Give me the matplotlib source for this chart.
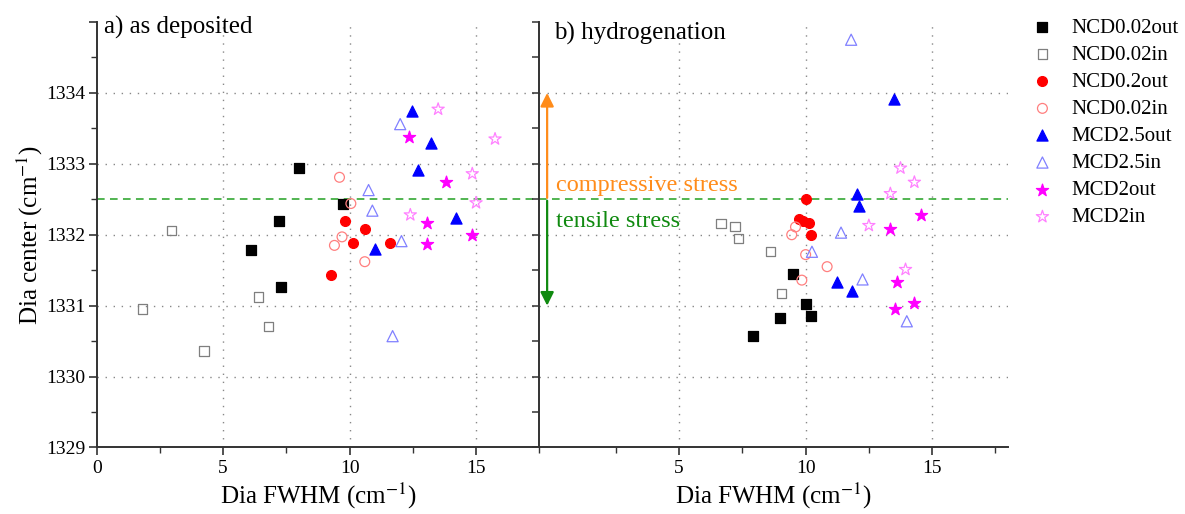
import numpy as np
import matplotlib
matplotlib.use('Agg')
import matplotlib.pyplot as plt
from matplotlib.ticker import MultipleLocator, FixedLocator, FuncFormatter

plt.rc('font', family='Liberation Serif')
plt.rc('mathtext', fontset='stix')

# a) as deposited
ncd002out_a_x = [6.1, 7.2, 7.3, 8.0, 9.75]
ncd002out_a_y = [1331.78, 1332.2, 1331.26, 1332.94, 1332.44]
ncd002in_a_x = [1.8, 2.95, 4.25, 6.4, 6.8]
ncd002in_a_y = [1330.95, 1332.06, 1330.36, 1331.12, 1330.71]
ncd02out_a_x = [9.8, 10.6, 10.15, 11.6, 9.25]
ncd02out_a_y = [1332.19, 1332.08, 1331.89, 1331.89, 1331.43]
ncd002in2_a_x = [9.6, 10.05, 9.7, 9.4, 10.6]
ncd002in2_a_y = [1332.81, 1332.44, 1331.97, 1331.85, 1331.62]
mcd25out_a_x = [12.45, 13.2, 12.7, 14.2, 11.0]
mcd25out_a_y = [1333.74, 1333.3, 1332.91, 1332.23, 1331.8]
mcd25in_a_x = [12.0, 10.75, 10.9, 12.05, 11.7]
mcd25in_a_y = [1333.56, 1332.63, 1332.34, 1331.91, 1330.57]
mcd2out_a_x = [12.35, 13.8, 13.05, 13.05, 14.85]
mcd2out_a_y = [1333.38, 1332.75, 1332.16, 1331.87, 1332.0]
mcd2in_a_x = [13.5, 15.75, 14.85, 15.0, 12.4]
mcd2in_a_y = [1333.77, 1333.35, 1332.86, 1332.45, 1332.28]

# b) hydrogenation
ncd002out_b_x = [9.5, 10.0, 10.2, 9.0, 7.9]
ncd002out_b_y = [1331.45, 1331.03, 1330.85, 1330.83, 1330.57]
ncd002in_b_x = [6.65, 7.2, 7.35, 8.6, 9.05]
ncd002in_b_y = [1332.16, 1332.12, 1331.95, 1331.76, 1331.17]
ncd02out_b_x = [10.0, 9.75, 9.9, 10.15, 10.2]
ncd02out_b_y = [1332.5, 1332.22, 1332.19, 1332.16, 1332.0]
ncd002in2_b_x = [9.6, 9.45, 10.0, 9.85, 10.85]
ncd002in2_b_y = [1332.11, 1332.0, 1331.72, 1331.36, 1331.55]
mcd25out_b_x = [12.05, 12.1, 11.25, 11.85, 13.5]
mcd25out_b_y = [1332.57, 1332.4, 1331.33, 1331.2, 1333.92]
mcd25in_b_x = [11.8, 11.4, 10.25, 12.25, 14.0]
mcd25in_b_y = [1334.75, 1332.03, 1331.76, 1331.37, 1330.78]
mcd2out_b_x = [14.55, 13.35, 13.6, 14.3, 13.55]
mcd2out_b_y = [1332.28, 1332.08, 1331.33, 1331.04, 1330.95]
mcd2in_b_x = [13.75, 14.3, 13.35, 12.5, 13.95]
mcd2in_b_y = [1332.94, 1332.74, 1332.58, 1332.13, 1331.51]

labels = ['NCD0.02out', 'NCD0.02in', 'NCD0.2out', 'NCD0.02in',
          'MCD2.5out', 'MCD2.5in', 'MCD2out', 'MCD2in']
# marker, size, face, edge
styles = [('s', 46, 'black', 'black'),
          ('s', 46, 'none', '#7f7f7f'),
          ('o', 50, 'red', 'red'),
          ('o', 50, 'none', '#ff7f7f'),
          ('^', 64, 'blue', 'blue'),
          ('^', 64, 'none', '#8080ff'),
          ('*', 85, 'magenta', 'magenta'),
          ('*', 85, 'none', '#ff80ff')]

data_a = [(ncd002out_a_x, ncd002out_a_y), (ncd002in_a_x, ncd002in_a_y),
          (ncd02out_a_x, ncd02out_a_y), (ncd002in2_a_x, ncd002in2_a_y),
          (mcd25out_a_x, mcd25out_a_y), (mcd25in_a_x, mcd25in_a_y),
          (mcd2out_a_x, mcd2out_a_y), (mcd2in_a_x, mcd2in_a_y)]
data_b = [(ncd002out_b_x, ncd002out_b_y), (ncd002in_b_x, ncd002in_b_y),
          (ncd02out_b_x, ncd02out_b_y), (ncd002in2_b_x, ncd002in2_b_y),
          (mcd25out_b_x, mcd25out_b_y), (mcd25in_b_x, mcd25in_b_y),
          (mcd2out_b_x, mcd2out_b_y), (mcd2in_b_x, mcd2in_b_y)]

fig = plt.figure(figsize=[11.85, 5.14], dpi=100)
axa = fig.add_axes([0.0816, 0.1294, 0.3735, 0.8278])
axb = fig.add_axes([0.4551, 0.1294, 0.3955, 0.8278])

spine_c = '#333333'
grid_kw = dict(color='#888888', lw=1.0, ls=(0, (1, 4.8)), zorder=1)

for ax in [axa, axb]:
    ax.set_ylim(1329, 1335)
    ax.patch.set_alpha(0)
    for y in [1330, 1331, 1332, 1333, 1334]:
        ax.axhline(y, **grid_kw)
    for x in [5, 10, 15]:
        ax.axvline(x, **grid_kw)
    ax.axhline(1332.5, color='#22a022', lw=1.1, ls=(0, (5, 3.5)), zorder=2)
    ax.spines['top'].set_visible(False)
    for s in ax.spines.values():
        s.set_color(spine_c)
        s.set_linewidth(1.4)
    ax.xaxis.set_minor_locator(FixedLocator([2.5, 7.5, 12.5, 17.5]))
    ax.tick_params(axis='x', which='major', direction='out', length=6, width=1.2,
                   color=spine_c, labelsize=14, pad=3)
    ax.tick_params(axis='x', which='minor', direction='out', length=4, width=1.0,
                   color=spine_c)
    ax.set_xlabel(r'Dia FWHM (cm$^{-1}$)', fontsize=18, labelpad=3)

# left panel
axa.set_xlim(0, 17.5)
axa.xaxis.set_major_locator(FixedLocator([0, 5, 10, 15]))
axa.yaxis.set_major_locator(MultipleLocator(1))
axa.yaxis.set_minor_locator(MultipleLocator(0.5))
axa.yaxis.set_major_formatter(FuncFormatter(lambda v, p: '' if v > 1334.5 else '%d' % round(v)))
axa.tick_params(axis='y', which='major', direction='out', length=6, width=1.2,
                color=spine_c, labelsize=14, pad=2)
axa.tick_params(axis='y', which='minor', direction='out', length=4, width=1.0,
                color=spine_c)
axa.spines['right'].set_visible(False)
axa.set_ylabel(r'Dia center (cm$^{-1}$)', fontsize=18, labelpad=1)

tw = axa.twinx()
tw.set_ylim(1329, 1335)
tw.yaxis.set_major_locator(MultipleLocator(1))
tw.yaxis.set_minor_locator(MultipleLocator(0.5))
tw.tick_params(axis='y', which='both', direction='in', length=5, width=1.1,
               color=spine_c, labelright=False)
for s in ['top', 'left', 'bottom']:
    tw.spines[s].set_visible(False)
tw.spines['right'].set_color(spine_c)
tw.spines['right'].set_linewidth(1.4)

# right panel
axb.set_xlim(-0.53, 18)
axb.xaxis.set_major_locator(FixedLocator([5, 10, 15]))
axb.spines['left'].set_visible(False)
axb.spines['right'].set_visible(False)
axb.set_yticks([])

handles = []
for ax, data in [(axa, data_a), (axb, data_b)]:
    for (x, y), (m, sz, fc, ec), lab in zip(data, styles, labels):
        h = ax.scatter(x, y, marker=m, s=sz, facecolors=fc, edgecolors=ec,
                       linewidths=0.9, zorder=5, label=lab)
        if ax is axa:
            handles.append(h)

axa.text(0.0165, 0.988, 'a) as deposited', transform=axa.transAxes,
         fontsize=18, ha='left', va='center')
axb.text(0.031, 0.972, 'b) hydrogenation', transform=axb.transAxes,
         fontsize=18, ha='left', va='center')

# stress arrows
axb.annotate('', xy=(-0.22, 1334.0), xytext=(-0.22, 1332.52),
             arrowprops=dict(arrowstyle='-|>', color='#ff8c1a', lw=1.6,
                             mutation_scale=20, shrinkA=0, shrinkB=0))
axb.annotate('', xy=(-0.22, 1331.0), xytext=(-0.22, 1332.48),
             arrowprops=dict(arrowstyle='-|>', color='#108a10', lw=1.6,
                             mutation_scale=20, shrinkA=0, shrinkB=0))
axb.text(0.13, 1332.69, 'compressive stress', color='#ff8c1a', fontsize=17.5,
         ha='left', va='center')
axb.text(0.15, 1332.19, 'tensile stress', color='#108a10', fontsize=17.5,
         ha='left', va='center')

fig.legend(handles, labels, loc='upper left', bbox_to_anchor=(1032 / 1185, 1 - 18 / 514),
           frameon=False, fontsize=15, handlelength=1.0, handletextpad=0.9,
           labelspacing=0.36, borderpad=0, borderaxespad=0, scatterpoints=1)

plt.savefig('out.png', dpi=100)
